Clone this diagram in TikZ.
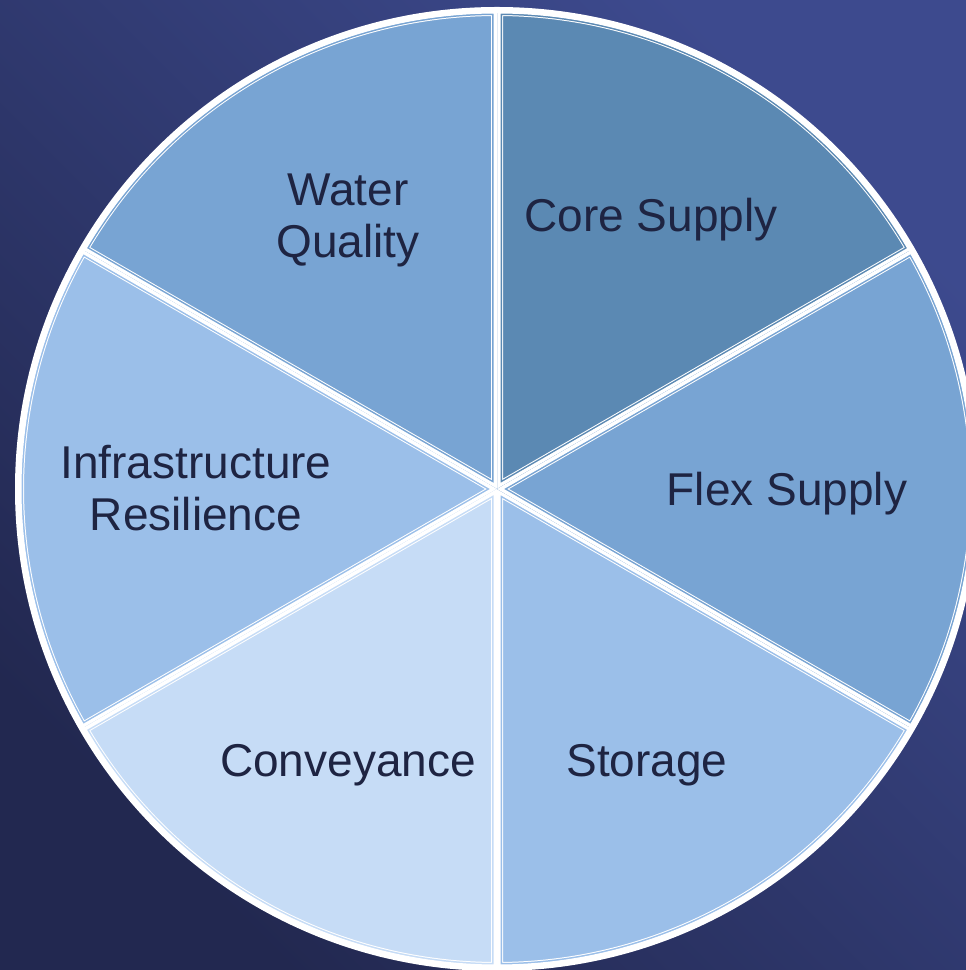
\documentclass[tikz,border=0pt]{standalone}
\usepackage{fontspec}
\setmainfont{Liberation Sans}
\definecolor{coreC}{RGB}{91,137,179}
\definecolor{midC}{RGB}{120,164,211}
\definecolor{lightC}{RGB}{155,191,233}
\definecolor{paleC}{RGB}{198,220,246}
\definecolor{txtC}{RGB}{30,36,66}
\definecolor{bgT}{RGB}{61,74,142}
\definecolor{bgB}{RGB}{34,40,80}
\tikzset{
  lbl/.style={text=txtC, font=\fontsize{46}{52}\selectfont, align=center, inner sep=0pt}
}
\begin{document}
\begin{tikzpicture}[x=1pt,y=1pt]
\useasboundingbox (0,0) rectangle (966,970);
\shade[top color=bgT, bottom color=bgB, shading angle=-45] (0,0) rectangle (966,970);
\coordinate (C) at (497,481);
\def\R{479}
\foreach \a/\b/\col in {30/90/coreC, 90/150/midC, 150/210/lightC, 210/270/paleC, 270/330/lightC, 330/390/midC}{
  \begin{scope}
    \clip (C) -- ++(\a:\R) arc[start angle=\a, end angle=\b, radius=\R] -- cycle;
    \fill[\col] (C) -- ++(\a:\R) arc[start angle=\a, end angle=\b, radius=\R] -- cycle;
    \draw[white, line width=12] (C) -- ++(\a:\R) arc[start angle=\a, end angle=\b, radius=\R] -- cycle;
    \draw[\col, line width=10] (C) -- ++(\a:\R) arc[start angle=\a, end angle=\b, radius=\R] -- cycle;
    \draw[white, line width=7] (C) -- ++(\a:\R) arc[start angle=\a, end angle=\b, radius=\R] -- cycle;
  \end{scope}
}
\draw[white, line width=6] (C) circle[radius=\R];
\node[lbl, anchor=base] (core) at (651,738) {Core Supply};
\node[lbl, anchor=base] (flex) at (787,464) {Flex Supply};
\node[lbl, anchor=base] (stor) at (647,193) {Storage};
\node[lbl, anchor=base] (conv) at (348,193) {Conveyance};
\node[lbl] (wq) at (348,750) {Water\\Quality};
\node[lbl] (inf) at (196,482) {Infrastructure\\Resilience};
\end{tikzpicture}
\end{document}
